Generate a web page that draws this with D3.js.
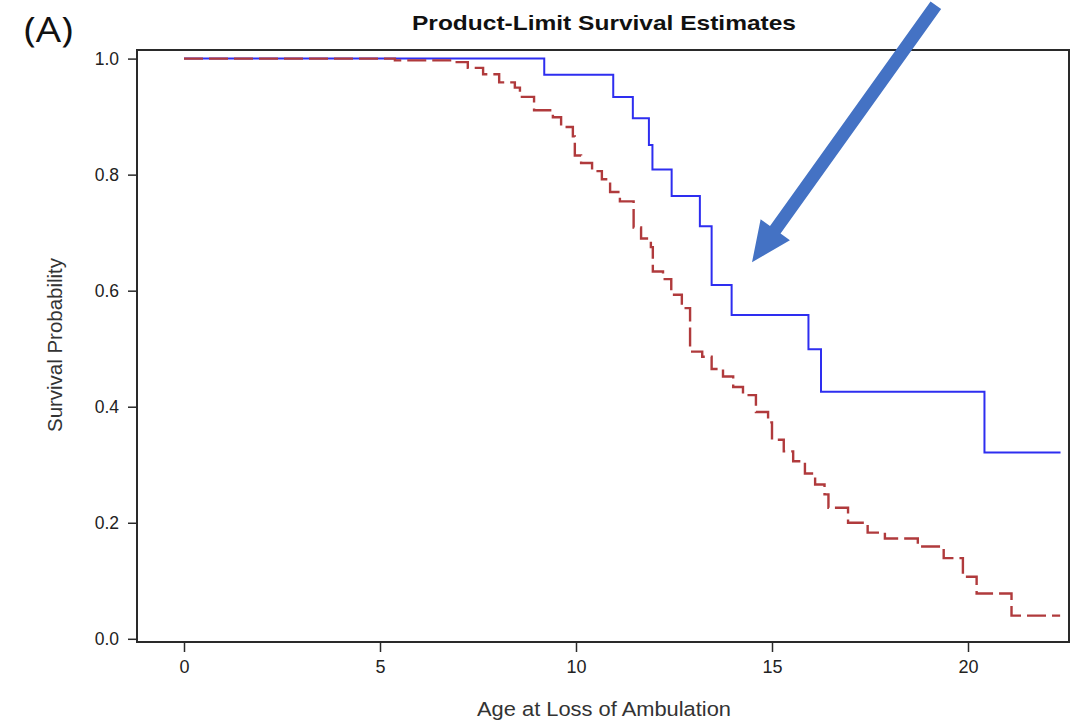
<!DOCTYPE html>
<html>
<head>
<meta charset="utf-8">
<script src="https://cdn.jsdelivr.net/npm/d3@7"></script>
<style>
  html, body { margin: 0; padding: 0; background: #ffffff; }
  svg { display: block; }
</style>
</head>
<body>
<svg id="chart" width="1076" height="721"></svg>
<script>
// ---- data ----
const title = "Product-Limit Survival Estimates";
const panelLabel = "(A)";
const xLabel = "Age at Loss of Ambulation";
const yLabel = "Survival Probability";
const xTicks = [0, 5, 10, 15, 20];
const yTicks = [0.0, 0.2, 0.4, 0.6, 0.8, 1.0];

// Blue (solid) group: event times and survival after each step
const blueTimes = [9.19, 10.95, 11.45, 11.86, 11.95, 12.44, 13.16, 13.46, 13.97, 15.93, 16.25, 20.42];
const blueSurv  = [0.972, 0.934, 0.897, 0.851, 0.809, 0.763, 0.711, 0.610, 0.558, 0.499, 0.426, 0.321];
const blueEnd = 22.36;

// Red (dashed) group
const redTimes = [5.38, 6.84, 7.24, 7.63, 8.04, 8.44, 8.57, 8.93, 9.41, 9.62, 9.92, 9.97, 10.13, 10.41, 10.66, 10.87,
  11.12, 11.47, 11.66, 11.91, 11.96, 12.22, 12.43, 12.70, 12.91, 13.22, 13.46, 13.75, 14.01, 14.26, 14.59, 14.90,
  15.00, 15.30, 15.54, 15.84, 16.10, 16.34, 16.44, 16.94, 17.44, 17.88, 18.72, 19.38, 19.87, 20.22, 21.11];
const redSurv = [0.997, 0.994, 0.984, 0.973, 0.959, 0.950, 0.934, 0.911, 0.899, 0.882, 0.866, 0.833, 0.820, 0.806, 0.792, 0.770,
  0.754, 0.709, 0.690, 0.675, 0.633, 0.620, 0.593, 0.570, 0.495, 0.486, 0.465, 0.452, 0.434, 0.420, 0.391, 0.373,
  0.343, 0.323, 0.306, 0.285, 0.266, 0.249, 0.226, 0.200, 0.183, 0.173, 0.159, 0.139, 0.107, 0.078, 0.040];
const redEnd = 22.35;

// Annotation arrow (in data units): tail -> tip
const arrowTail = [19.18, 1.092];
const arrowTip = [14.49, 0.649];

// ---- layout ----
const svg = d3.select("#chart");
const frame = { left: 137, right: 1069, top: 50, bottom: 642 };
const x = d3.scaleLinear().domain([0, 20]).range([184, 968]);
const y = d3.scaleLinear().domain([0, 1]).range([638.8, 58.6]);

const font = "'Liberation Sans', Arial, sans-serif";

// frame
svg.append("rect")
  .attr("x", frame.left).attr("y", frame.top)
  .attr("width", frame.right - frame.left).attr("height", frame.bottom - frame.top)
  .attr("fill", "none").attr("stroke", "#2a2a2a").attr("stroke-width", 2);

// y axis
const yAxis = svg.append("g").attr("transform", `translate(${frame.left},0)`)
  .call(d3.axisLeft(y).tickValues(yTicks).tickFormat(d3.format(".1f")).tickSize(9).tickPadding(9));
yAxis.select(".domain").remove();
yAxis.selectAll("line").attr("stroke", "#2a2a2a").attr("stroke-width", 1.5);
yAxis.selectAll("text").attr("font-family", font).attr("font-size", 17.5).attr("fill", "#222");

// x axis
const xAxis = svg.append("g").attr("transform", `translate(0,${frame.bottom})`)
  .call(d3.axisBottom(x).tickValues(xTicks).tickFormat(d3.format("d")).tickSize(10).tickPadding(8));
xAxis.select(".domain").remove();
xAxis.selectAll("line").attr("stroke", "#2a2a2a").attr("stroke-width", 1.5);
xAxis.selectAll("text").attr("font-family", font).attr("font-size", 18).attr("fill", "#222");

// curves
function stepData(times, surv, end) {
  const pts = [[0, 1]];
  times.forEach((t, i) => pts.push([t, surv[i]]));
  pts.push([end, surv[surv.length - 1]]);
  return pts;
}
const line = d3.line().x(d => x(d[0])).y(d => y(d[1])).curve(d3.curveStepAfter);

svg.append("path")
  .datum(stepData(blueTimes, blueSurv, blueEnd))
  .attr("d", line).attr("fill", "none")
  .attr("stroke", "#2e2ef0").attr("stroke-width", 2);

svg.append("path")
  .datum(stepData(redTimes, redSurv, redEnd))
  .attr("d", line).attr("fill", "none")
  .attr("stroke", "#b03a3c").attr("stroke-width", 2.4)
  .attr("stroke-dasharray", "19,6");

// title & labels
svg.append("text").attr("x", 604).attr("y", 30).attr("text-anchor", "middle")
  .attr("font-family", font).attr("font-weight", "bold").attr("font-size", 21).attr("fill", "#111")
  .attr("textLength", 384).attr("lengthAdjust", "spacingAndGlyphs")
  .text(title);

svg.append("text").attr("x", 24).attr("y", 42)
  .attr("font-family", "'Open Sans', 'Liberation Sans', sans-serif").attr("font-size", 34).attr("fill", "#111")
  .attr("textLength", 49).attr("lengthAdjust", "spacingAndGlyphs")
  .text(panelLabel);

svg.append("text").attr("x", 604).attr("y", 716).attr("text-anchor", "middle")
  .attr("font-family", font).attr("font-size", 20.5).attr("fill", "#333")
  .attr("textLength", 254).attr("lengthAdjust", "spacingAndGlyphs")
  .text(xLabel);

svg.append("text").attr("transform", "translate(62,345) rotate(-90)").attr("text-anchor", "middle")
  .attr("font-family", font).attr("font-size", 19.5).attr("fill", "#333")
  .attr("textLength", 174).attr("lengthAdjust", "spacingAndGlyphs")
  .text(yLabel);

// arrow annotation
const ax0 = x(arrowTail[0]), ay0 = y(arrowTail[1]);
const ax1 = x(arrowTip[0]), ay1 = y(arrowTip[1]);
const dx = ax1 - ax0, dy = ay1 - ay0, len = Math.hypot(dx, dy);
const ux = dx / len, uy = dy / len, px = -uy, py = ux;
const headLen = 40, headHalf = 18, shaftHalf = 6.5;
const bx = ax1 - ux * headLen, by = ay1 - uy * headLen;
const arrowPts = [
  [ax0 + px * shaftHalf, ay0 + py * shaftHalf],
  [bx + px * shaftHalf, by + py * shaftHalf],
  [bx + px * headHalf, by + py * headHalf],
  [ax1, ay1],
  [bx - px * headHalf, by - py * headHalf],
  [bx - px * shaftHalf, by - py * shaftHalf],
  [ax0 - px * shaftHalf, ay0 - py * shaftHalf]
];
svg.append("path").attr("d", d3.line()(arrowPts) + "Z").attr("fill", "#4472c4");
</script>
</body>
</html>
